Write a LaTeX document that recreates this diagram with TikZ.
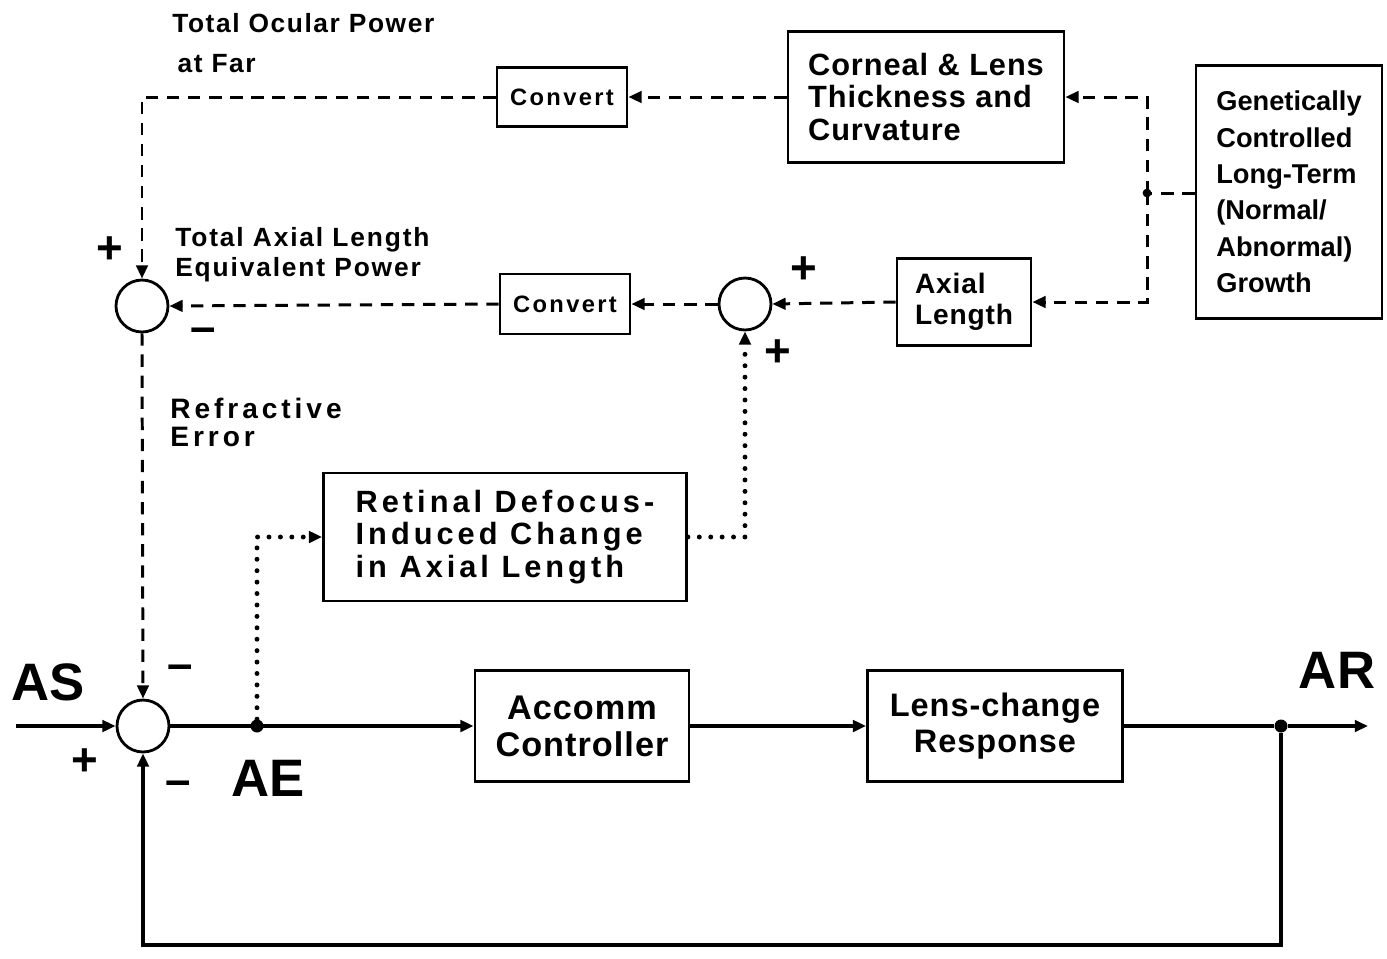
\documentclass[tikz,border=0pt]{standalone}
\usepackage{fontspec}
\setmainfont{Liberation Sans}
\usetikzlibrary{arrows.meta}

\newcommand\fsz[2]{\fontsize{#1}{#2}\selectfont}
\newcommand\lsp[1]{\addfontfeature{LetterSpace=#1}}

\begin{document}
\begin{tikzpicture}[x=0.02cm, y=-0.02cm,
  >={Triangle[length=7.5pt,width=6.5pt]},
  box/.style={draw, line width=1.6pt, inner sep=0pt},
  sum/.style={draw, circle, line width=1.6pt, minimum size=1.04cm, inner sep=0pt},
  sol/.style={line width=1.9pt},
  dsh/.style={line width=1.7pt, dash pattern=on 7pt off 5pt},
  dots/.style={line width=2.8pt, line cap=round, dash pattern=on 0pt off 6.5pt},
  lbl/.style={align=left, inner sep=0pt},
  sgn/.style={inner sep=0pt, font=\bfseries\fsz{26}{26}},
  neg/.style={inner sep=0pt, font=\bfseries\fsz{26}{26}},
  big/.style={inner sep=0pt, font=\bfseries\fsz{30}{30}},
  junc/.style={circle, fill, inner sep=0pt, minimum size=0.26cm}
]
\useasboundingbox (0,0) rectangle (1387,958);

% summing points
\node[sum] (SumR) at (142,306) {};
\node[sum] (SumA) at (745,304) {};
\node[sum] (SumE) at (143,726) {};

% blocks
\node[box, minimum width=2.6cm, minimum height=1.18cm, font=\bfseries\fsz{13.5}{15}\lsp{10}] (Conv1) at (562,97) {Convert};
\node[box, minimum width=2.6cm, minimum height=1.2cm, font=\bfseries\fsz{13.5}{15}\lsp{10}] (Conv2) at (565,304) {Convert};
\node[box, align=left, minimum width=5.52cm, minimum height=2.62cm, font=\bfseries\fsz{17.5}{18.7}\lsp{3}] (Corn) at (926,97) {Corneal \& Lens\\Thickness and\\Curvature};
\node[box, align=left, minimum width=3.72cm, minimum height=5.06cm, font=\bfseries\fsz{15.5}{20.7}] (Gene) at (1289,192) {Genetically\\Controlled\\Long-Term\\(Normal/\\Abnormal)\\Growth};
\node[box, align=left, minimum width=2.68cm, minimum height=1.74cm, font=\bfseries\fsz{16}{17.6}\lsp{3}] (Axl) at (964,302) {Axial\\Length};
\node[box, align=left, minimum width=7.26cm, minimum height=2.56cm, font=\bfseries\fsz{17.5}{18.4}\lsp{13}] (Ret) at (505,537) {Retinal Defocus-\\Induced Change\\in Axial Length};
\node[box, align=center, minimum width=4.28cm, minimum height=2.22cm, font=\bfseries\fsz{19.5}{21}\lsp{3}] (Acc) at (582,726) {Accomm\\Controller};
\node[box, align=center, minimum width=5.1cm, minimum height=2.22cm, font=\bfseries\fsz{18.5}{20.4}\lsp{3}] (Lens) at (995,726) {Lens-change\\Response};

% junctions
\node[junc] (AE) at (257,726) {};
\node[junc] (AR) at (1281,726) {};
\coordinate (In) at (16,726);
\coordinate (Out) at (1368,726);
\coordinate (FB) at (1281,945);
\coordinate (Split) at (1147,193);

% labels
\node[lbl, anchor=north west, font=\bfseries\fsz{15}{22.7}\lsp{6}] (TOP) at (172,13) {Total Ocular Power\\\hspace{3pt}at Far};
\node[lbl, anchor=north west, font=\bfseries\fsz{15}{17}\lsp{7}] (TAL) at (175,227) {Total Axial Length\\Equivalent Power};
\node[lbl, anchor=north west, font=\bfseries\fsz{16}{15.9}\lsp{14}] (RE) at (170,398) {Refractive\\Error};
\node[big] (AS) at (48,682) {AS};
\node[big] (AEl) at (268,778) {AE};
\node[big] (ARl) at (1337,670) {AR};

% signs
\node[sgn] (p1) at (110,250) {+};
\node[neg] (m1) at (203,335) {–};
\node[sgn] (p2) at (804,270) {+};
\node[sgn] (p3) at (778,353) {+};
\node[neg] (m2) at (180,672) {–};
\node[sgn] (p4) at (85,762) {+};
\node[neg] (m3) at (178,788) {–};

% long-term growth loop (dashed)
\draw[dsh] (Gene.west |- Split) -- (Split);
\fill (Split) circle (2.5pt);
\draw[dsh,->] (Split) |- (Corn.east);
\draw[dsh,->] (Split) |- (Axl.east);
\draw[dsh,->] (Corn.west) -- (Conv1.east);
\draw[dsh,->] (Conv1.west) -| (SumR.north);
\draw[dsh,->] (Axl.west) -- (SumA.east);
\draw[dsh,->] (SumA.west) -- (Conv2.east);
\draw[dsh,->] (Conv2.west) -- (SumR.east);
\draw[dsh,->] (SumR.south) -- (SumE.north);

% defocus path (dotted)
\draw[dots,->] (AE) |- (Ret.west);
\draw[dots,->] (Ret.east) -| (SumA.south);

% accommodation loop (solid)
\draw[sol,->] (In) -- (SumE.west);
\draw[sol,->] (SumE.east) -- (Acc.west);
\draw[sol,->] (Acc.east) -- (Lens.west);
\draw[sol] (Lens.east) -- (AR);
\draw[sol,->] (AR) -- (Out);
\draw[sol,->] (AR) -- (FB) -| (SumE.south);
\end{tikzpicture}
\end{document}
